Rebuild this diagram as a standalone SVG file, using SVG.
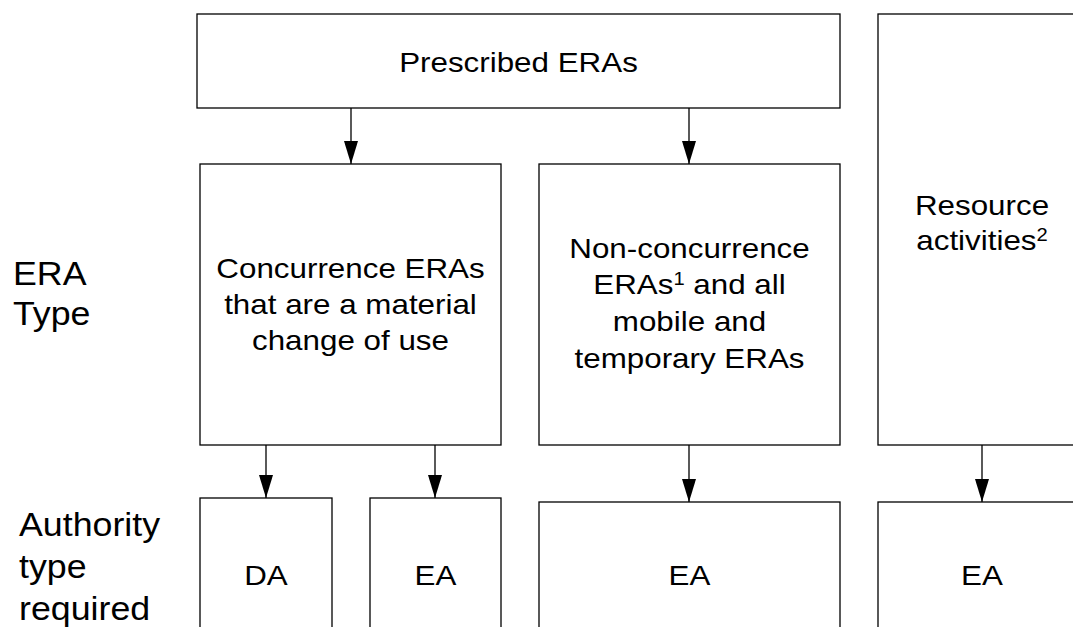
<svg xmlns="http://www.w3.org/2000/svg" width="1073" height="627" viewBox="0 0 1073 627">
<style>
.box{fill:#fff;stroke:#000;stroke-width:1.3}
.t{font-family:"Liberation Sans",Arial,sans-serif;font-size:28px;fill:#000;text-anchor:middle}
.lbl{font-family:"Liberation Sans",Arial,sans-serif;font-size:32.5px;fill:#000}
.sup{font-size:18px}
.conn{stroke:#000;stroke-width:1.3;fill:none;marker-end:url(#ah)}
</style>
<defs>
<marker id="ah" markerUnits="userSpaceOnUse" markerWidth="23" markerHeight="14" refX="23" refY="7" orient="auto" viewBox="0 0 23 14">
<path d="M0,0 L23,7 L0,14 Z" fill="#000"/>
</marker>
</defs>
<rect width="1073" height="627" fill="#fff"/>

<g id="label-era-type" transform="translate(13,0) scale(1.1,1)">
<text class="lbl" x="0" y="285">ERA</text>
<text class="lbl" x="0" y="325">Type</text>
</g>
<g id="label-authority" transform="translate(19,0) scale(1.1,1)">
<text class="lbl" x="0" y="536">Authority</text>
<text class="lbl" x="0" y="578">type</text>
<text class="lbl" x="0" y="620">required</text>
</g>

<g id="prescribed">
<rect class="box" x="197" y="14" width="643" height="94"/>
<text class="t" transform="translate(518.5,0) scale(1.12,1)" x="0" y="72">Prescribed ERAs</text>
</g>

<g id="resource">
<rect class="box" x="878" y="14" width="210" height="431"/>
<g transform="translate(982,0) scale(1.12,1)">
<text class="t" x="0" y="215">Resource</text>
<text class="t" x="0" y="250">activities<tspan class="sup" dy="-9">2</tspan></text>
</g>
</g>

<g id="concurrence">
<rect class="box" x="200" y="164" width="301" height="281"/>
<g transform="translate(350.5,0) scale(1.12,1)">
<text class="t" x="0" y="278">Concurrence ERAs</text>
<text class="t" x="0" y="314">that are a material</text>
<text class="t" x="0" y="350">change of use</text>
</g>
</g>

<g id="non-concurrence">
<rect class="box" x="539" y="164" width="301" height="281"/>
<g transform="translate(689.5,0) scale(1.12,1)">
<text class="t" x="0" y="258">Non-concurrence</text>
<text class="t" x="0" y="294">ERAs<tspan class="sup" dy="-9">1</tspan><tspan dy="9"> and all</tspan></text>
<text class="t" x="0" y="331">mobile and</text>
<text class="t" x="0" y="368">temporary ERAs</text>
</g>
</g>

<g id="da">
<rect class="box" x="200" y="498" width="132" height="140"/>
<text class="t" transform="translate(266,0) scale(1.12,1)" x="0" y="585">DA</text>
</g>
<g id="ea-1">
<rect class="box" x="370" y="498" width="131" height="140"/>
<text class="t" transform="translate(435.5,0) scale(1.12,1)" x="0" y="585">EA</text>
</g>
<g id="ea-2">
<rect class="box" x="539" y="502" width="301" height="140"/>
<text class="t" transform="translate(689.5,0) scale(1.12,1)" x="0" y="585">EA</text>
</g>
<g id="ea-3">
<rect class="box" x="878" y="502" width="210" height="140"/>
<text class="t" transform="translate(982,0) scale(1.12,1)" x="0" y="585">EA</text>
</g>

<g id="connectors">
<line class="conn" x1="351" y1="108" x2="351" y2="164"/>
<line class="conn" x1="689" y1="108" x2="689" y2="164"/>
<line class="conn" x1="266" y1="445" x2="266" y2="498"/>
<line class="conn" x1="435" y1="445" x2="435" y2="498"/>
<line class="conn" x1="689" y1="445" x2="689" y2="502"/>
<line class="conn" x1="982" y1="445" x2="982" y2="502"/>
</g>
</svg>
